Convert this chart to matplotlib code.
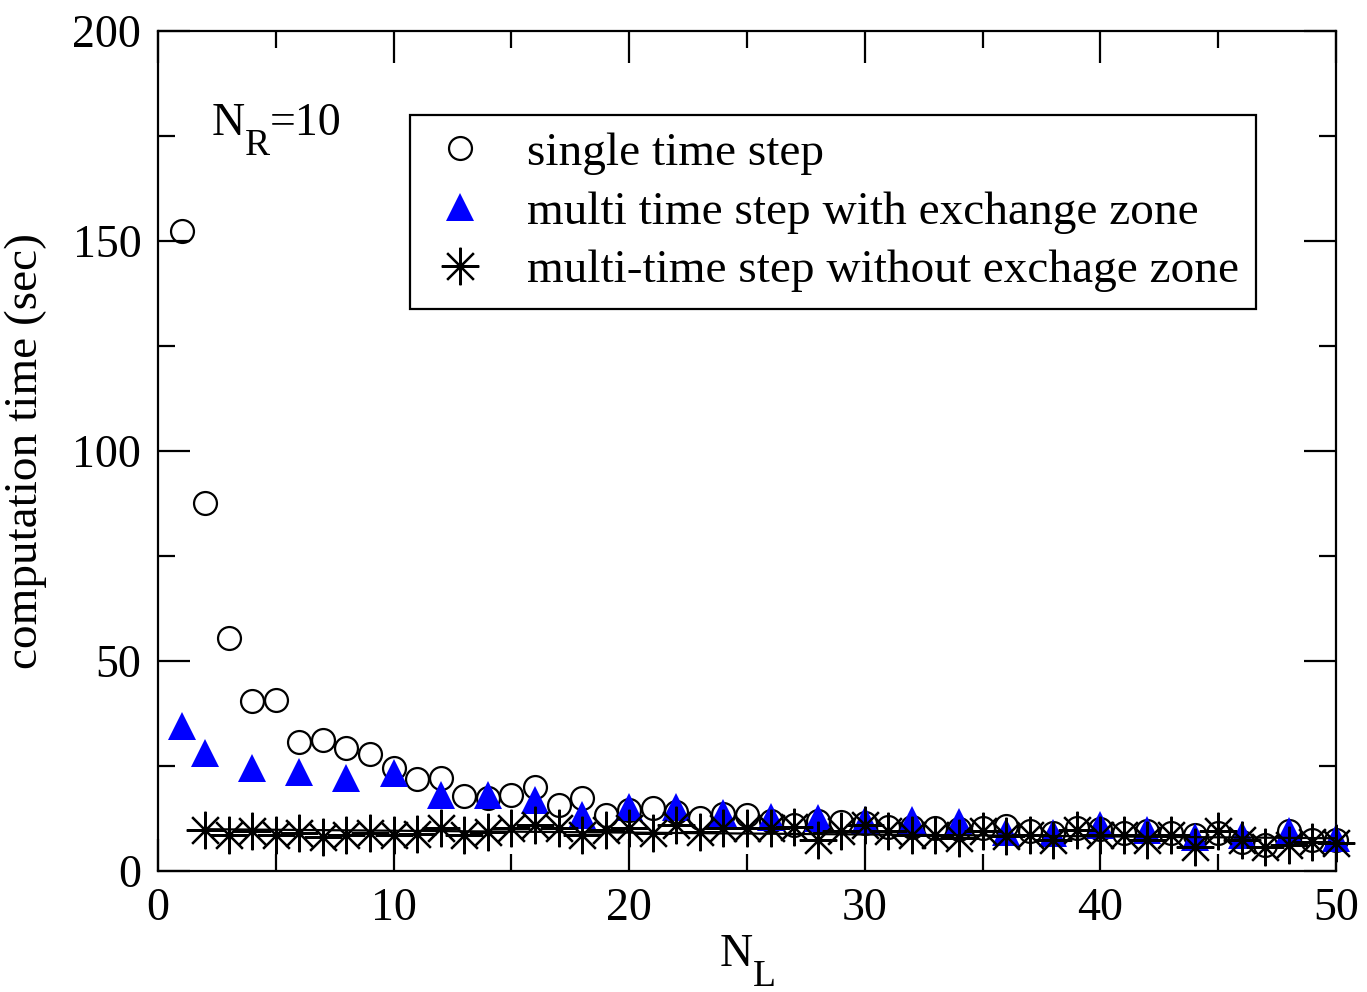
import numpy as np
import matplotlib

matplotlib.use('Agg')

import matplotlib.pyplot as plt
from matplotlib.transforms import IdentityTransform


# single time step, N_L = 1..50
single_x = np.arange(1, 51)
single_t = [152.4, 87.6, 55.5, 40.4, 40.6, 30.8, 31.1, 29.3, 27.8, 24.6,
            21.9, 22.2, 17.8, 17.4, 18.0, 20.0, 15.7, 17.3, 13.3, 14.5,
            15.0, 14.0, 12.6, 13.5, 13.3, 12.0, 11.0, 12.0, 11.7, 11.5,
            10.5, 10.5, 10.2, 10.0, 10.2, 10.8, 9.6, 9.0, 10.2, 10.0,
            9.0, 9.5, 9.0, 8.6, 9.0, 7.0, 6.2, 9.4, 7.4, 7.4]

# multi time step with exchange zone
multi_x = [1] + list(range(2, 51, 2))
multi_t = [34.4, 28.0, 24.5, 23.6, 22.1, 23.3, 18.1, 18.1, 16.9, 13.3,
           15.2, 15.2, 13.9, 12.9, 12.6, 12.1, 12.1, 11.7, 9.2, 9.0,
           11.0, 9.8, 8.2, 8.6, 9.4, 7.9]

# multi-time step without exchange zone, N_L = 2..50
noex_x = np.arange(2, 51)
noex_t = [9.8, 8.6, 9.4, 8.6, 9.0, 8.2, 8.6, 9.1, 8.6, 8.8,
          10.2, 8.6, 9.3, 10.2, 11.0, 10.2, 8.6, 9.8, 10.2, 9.0,
          11.0, 9.3, 10.3, 10.2, 10.2, 10.5, 7.4, 9.4, 11.0, 9.4,
          8.6, 8.6, 7.9, 9.4, 8.4, 8.6, 7.4, 9.8, 8.6, 8.6,
          7.4, 8.6, 5.8, 9.4, 7.4, 5.8, 6.2, 7.0, 6.6]

labels = ['single time step',
          'multi time step with exchange zone',
          'multi-time step without exchage zone']

plt.rcParams['font.family'] = ['Liberation Serif', 'DejaVu Serif']

FS = 33
SUB = 27
DPI = 100
H = 992

fig = plt.figure(figsize=(13.67, 9.92), dpi=DPI)
ax = fig.add_axes([0.1156, 0.122, 0.8617, 0.8468])

ax.plot(single_x, single_t, linestyle='none', marker='o', ms=16.5,
        mfc='none', mec='black', mew=1.6, clip_on=False, label=labels[0], zorder=3)
ax.plot(multi_x, multi_t, linestyle='none', marker='^', ms=19.5,
        mfc='#0000ff', mec='#0000ff', mew=0, clip_on=False, label=labels[1], zorder=3)
ax.plot(noex_x, noex_t, linestyle='none', marker=(8, 2, 0), ms=27,
        mec='black', mew=1.6, clip_on=False, label=labels[2], zorder=4)

# straight fit through the third series
coef = np.polyfit(noex_x, noex_t, 1)
ax.plot(noex_x, np.polyval(coef, noex_x), color='black', lw=1.6, zorder=4)

ax.set_xlim(0, 50)
ax.set_ylim(0, 200)
ax.set_xticks(np.arange(0, 51, 10))
ax.set_xticks(np.arange(0, 51, 5), minor=True)
ax.set_yticks(np.arange(0, 201, 50))
ax.set_yticks(np.arange(0, 201, 25), minor=True)
ax.tick_params(which='both', direction='in', top=True, right=True, width=1.6)
ax.tick_params(which='major', length=23, labelsize=FS, pad=12)
ax.tick_params(which='minor', length=12)
for s in ax.spines.values():
    s.set_linewidth(1.6)

ax.set_ylabel('computation time (sec)', fontsize=FS + 1, labelpad=18)

leg = ax.legend(loc='upper left', bbox_to_anchor=(0.214, 0.9), borderaxespad=0,
                fontsize=FS + 1, frameon=True, fancybox=False, edgecolor='black',
                framealpha=1, handlelength=1.4, handletextpad=0.72,
                labelspacing=0.33, borderpad=0.36, numpoints=1)
leg.get_frame().set_linewidth(1.6)


def sub_label(x_px, base_px, main, sub, tail=''):
    # text with a large, lowered subscript, placed in pixel coordinates
    t1 = fig.text(x_px, H - base_px, main, transform=IdentityTransform(),
                  fontsize=FS, ha='left', va='baseline')
    fig.canvas.draw()
    r = fig.canvas.get_renderer()
    x1 = t1.get_window_extent(r).x1
    t2 = fig.text(x1, H - base_px - 20, sub, transform=IdentityTransform(),
                  fontsize=SUB, ha='left', va='baseline')
    if tail:
        fig.canvas.draw()
        x2 = t2.get_window_extent(r).x1
        fig.text(x2, H - base_px, tail, transform=IdentityTransform(),
                 fontsize=FS, ha='left', va='baseline')


sub_label(212, 135, 'N', 'R', '=10')
sub_label(720, 966, 'N', 'L')

fig.savefig('out.png', dpi=DPI)
plt.close(fig)
